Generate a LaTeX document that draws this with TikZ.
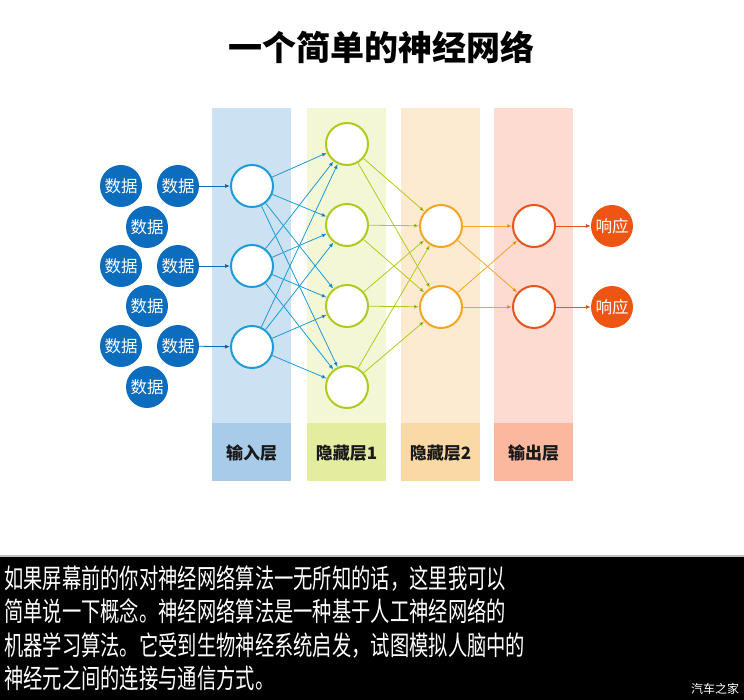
\documentclass[tikz,border=0pt]{standalone}
\usepackage{fontspec}
\usepackage{tikz}
\usetikzlibrary{arrows.meta}

\newfontfamily\cjk{Noto Sans CJK SC}
\newfontfamily\cjknarrow[FakeStretch=0.72]{Noto Sans CJK SC}

\definecolor{datablue}{HTML}{0C6CBE}
\definecolor{inblue}{HTML}{1C9CD8}
\definecolor{inband}{HTML}{CCE1F2}
\definecolor{inlabel}{HTML}{A8CBEA}
\definecolor{hgreen}{HTML}{AECB1E}
\definecolor{hgreenband}{HTML}{F3F7D6}
\definecolor{hgreenlabel}{HTML}{E4ECA0}
\definecolor{horange}{HTML}{F5A524}
\definecolor{horangeband}{HTML}{FDEBD1}
\definecolor{horangelabel}{HTML}{FBD9A4}
\definecolor{outred}{HTML}{E9531E}
\definecolor{outband}{HTML}{FDDBD0}
\definecolor{outlabel}{HTML}{FBB89E}
\definecolor{respred}{HTML}{EE5412}

\tikzset{
	neuron/.style={shape=circle,fill=white,line width=2pt,minimum size=42pt,inner sep=0pt},
	datanode/.style={shape=circle,fill=datablue,text=white,minimum size=42pt,inner sep=0pt,
		font=\cjk\fontsize{16.5}{16.5}\selectfont},
	respnode/.style={shape=circle,fill=respred,text=white,minimum size=42pt,inner sep=0pt,
		font=\cjk\fontsize{16.5}{16.5}\selectfont},
	layername/.style={text=black!90,font=\cjk\bfseries\fontsize{17}{17}\selectfont},
	link/.style={line width=0.8pt,-{Latex[length=5pt,width=4pt]}},
	textline/.style={anchor=base west,text=white,inner sep=0pt,
		font=\cjknarrow\fontsize{26.8}{26.8}\selectfont},
}

\begin{document}
\begin{tikzpicture}[x=1pt,y=-1pt]
	\useasboundingbox (0,0) rectangle (744,700);
	
	\node[font=\cjk\bfseries\fontsize{34}{34}\selectfont] (title) at (381,47) {一个简单的神经网络};
	
	% layer bands
	\fill[inband] (212,108) rectangle (291,423);
	\fill[inlabel] (212,423) rectangle (291,481);
	\fill[hgreenband] (307,108) rectangle (386,423);
	\fill[hgreenlabel] (307,423) rectangle (386,481);
	\fill[horangeband] (401,108) rectangle (480,423);
	\fill[horangelabel] (401,423) rectangle (480,481);
	\fill[outband] (494,108) rectangle (573,423);
	\fill[outlabel] (494,423) rectangle (573,481);
	\node[layername] (lin) at (251.5,453) {输入层};
	\node[layername] (lh1) at (346.5,453) {隐藏层1};
	\node[layername] (lh2) at (440.5,453) {隐藏层2};
	\node[layername] (lout) at (533.5,453) {输出层};
	
	\node[datanode] (d1) at (121,186) {数据};
	\node[datanode] (d2) at (178,186) {数据};
	\node[datanode] (d3) at (147,227) {数据};
	\node[datanode] (d4) at (121,266) {数据};
	\node[datanode] (d5) at (178,266) {数据};
	\node[datanode] (d6) at (147,306) {数据};
	\node[datanode] (d7) at (121,346) {数据};
	\node[datanode] (d8) at (178,346) {数据};
	\node[datanode] (d9) at (147,387) {数据};
	
	\node[neuron,draw=inblue] (i1) at (252,186) {};
	\node[neuron,draw=inblue] (i2) at (252,266) {};
	\node[neuron,draw=inblue] (i3) at (252,347) {};
	
	\node[neuron,draw=hgreen] (a1) at (347,144) {};
	\node[neuron,draw=hgreen] (a2) at (347,225) {};
	\node[neuron,draw=hgreen] (a3) at (347,306) {};
	\node[neuron,draw=hgreen] (a4) at (347,387) {};
	
	\node[neuron,draw=horange] (b1) at (441,226) {};
	\node[neuron,draw=horange] (b2) at (441,307) {};
	
	\node[neuron,draw=outred] (o1) at (534,226) {};
	\node[neuron,draw=outred] (o2) at (534,307) {};
	
	\node[respnode] (r1) at (612,226) {响应};
	\node[respnode] (r2) at (612,307) {响应};
	
	\path[link,draw=datablue] (d2) edge (i1);
	\path[link,draw=datablue] (d5) edge (i2);
	\path[link,draw=datablue] (d8) edge (i3);
	
	\path[link,draw=inblue] (i1) edge (a1) edge (a2) edge (a3) edge (a4);
	\path[link,draw=inblue] (i2) edge (a1) edge (a2) edge (a3) edge (a4);
	\path[link,draw=inblue] (i3) edge (a1) edge (a2) edge (a3) edge (a4);
	
	\path[link,draw=hgreen] (a1) edge (b1) edge (b2);
	\path[link,draw=hgreen] (a2) edge (b1) edge (b2);
	\path[link,draw=hgreen] (a3) edge (b1) edge (b2);
	\path[link,draw=hgreen] (a4) edge (b1) edge (b2);
	
	\path[link,draw=horange] (b1) edge (o1) edge (o2);
	\path[link,draw=horange] (b2) edge (o1) edge (o2);
	
	\path[link,draw=outred] (o1) edge (r1);
	\path[link,draw=outred] (o2) edge (r2);
	
	% caption box
	\fill[black!25] (0,554.5) rectangle (744,556.5);
	\fill[black] (0,556.5) rectangle (744,700);
	\node[textline] (t1) at (4,588) {如果屏幕前的你对神经网络算法一无所知的话，这里我可以};
	\node[textline] (t2) at (4,621.5) {简单说一下概念。神经网络算法是一种基于人工神经网络的};
	\node[textline] (t3) at (4,655) {机器学习算法。它受到生物神经系统启发，试图模拟人脑中的};
	\node[textline] (t4) at (4,688.5) {神经元之间的连接与通信方式。};
	\node[text=white,font=\cjk\fontsize{12}{12}\selectfont] (mark) at (715,689) {汽车之家};
	
\end{tikzpicture}
\end{document}
